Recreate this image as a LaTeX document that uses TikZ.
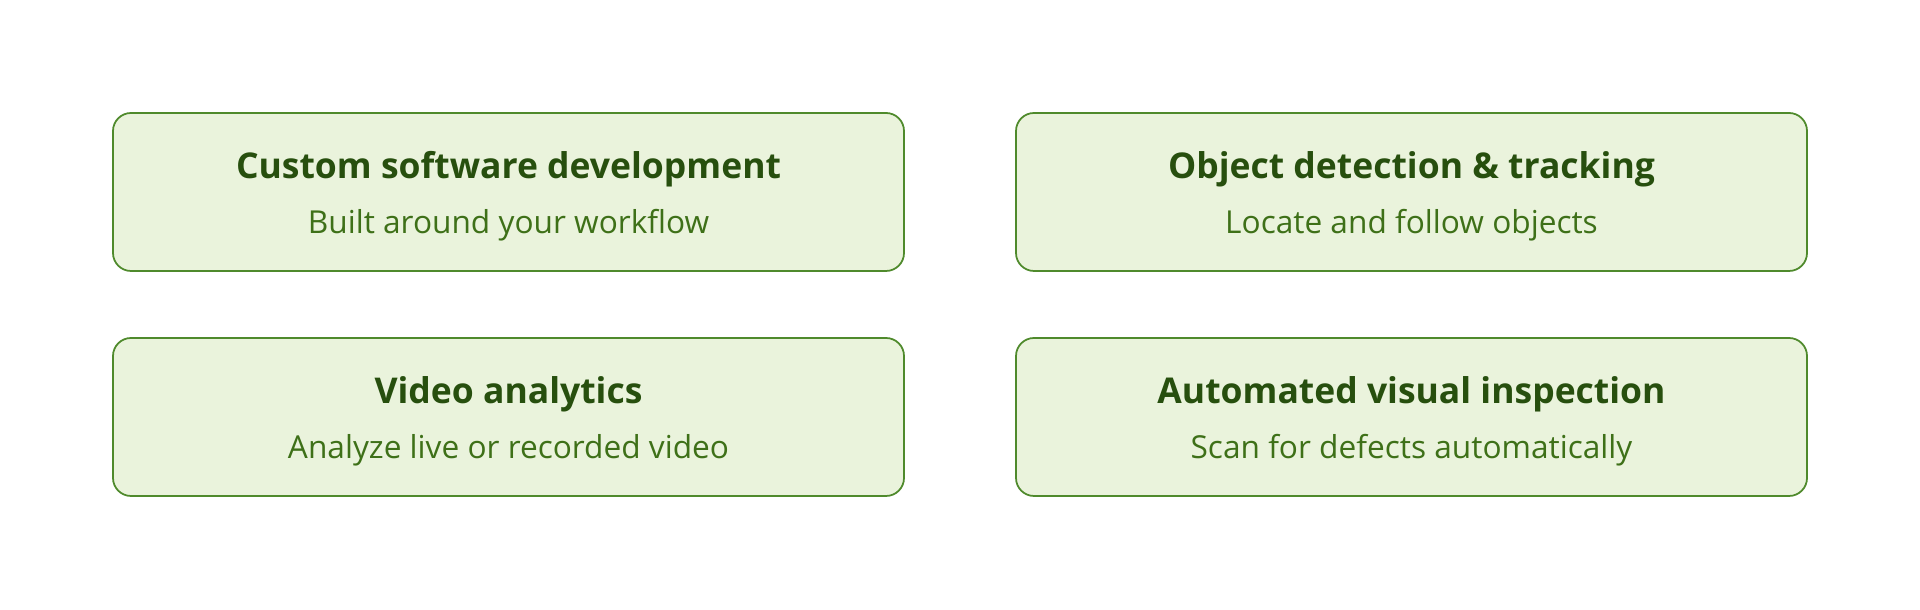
\documentclass[tikz,border=0pt]{standalone}
\usepackage{fontspec}
\setmainfont{Open Sans}
\usetikzlibrary{positioning}
\definecolor{boxfill}{HTML}{EAF3DC}
\definecolor{boxline}{HTML}{4F8A2C}
\definecolor{headcol}{HTML}{274F0E}
\definecolor{subcol}{HTML}{3E7018}
\tikzset{%
	card/.style  = {draw=boxline, fill=boxfill, rounded corners=0.18cm, line width=0.5pt, minimum width=7.91cm, minimum height=1.58cm}, % Box
	head/.style  = {text=headcol, font=\fontsize{10.1}{12}\selectfont\bfseries, inner sep=0pt}, % Title
	sub/.style   = {text=subcol, font=\fontsize{9}{11}\selectfont, inner sep=0pt}, % Subtitle
}
\begin{document}
\begin{tikzpicture}
	\useasboundingbox (0,0) rectangle (19.2,6.1);
	\node [card] (c1) at (5.085,4.18) {};
	\node [card] (c2) at (14.115,4.18) {};
	\node [card] (c3) at (5.085,1.93) {};
	\node [card] (c4) at (14.115,1.93) {};
	
	\node [head] (t1) at ([yshift=0.23cm]c1.center) {Custom software development};
	\node [sub] (s1) at ([yshift=-0.33cm]c1.center) {Built around your workflow};
	\node [head] (t2) at ([yshift=0.23cm]c2.center) {Object detection \& tracking};
	\node [sub] (s2) at ([yshift=-0.33cm]c2.center) {Locate and follow objects};
	\node [head] (t3) at ([yshift=0.23cm]c3.center) {Video analytics};
	\node [sub] (s3) at ([yshift=-0.33cm]c3.center) {Analyze live or recorded video};
	\node [head] (t4) at ([yshift=0.23cm]c4.center) {Automated visual inspection};
	\node [sub] (s4) at ([yshift=-0.33cm]c4.center) {Scan for defects automatically};
\end{tikzpicture}
\end{document}
